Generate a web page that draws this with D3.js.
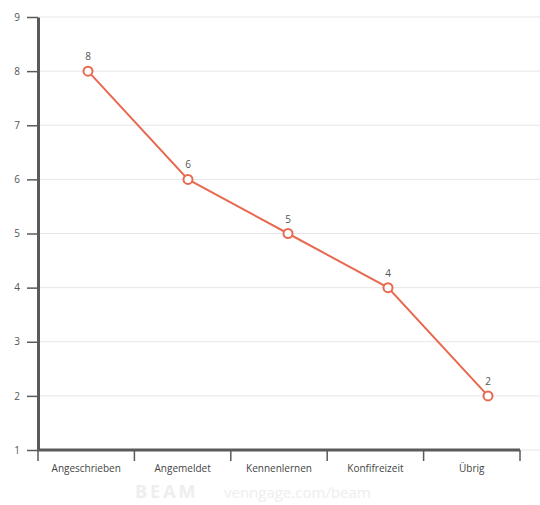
<!DOCTYPE html>
<html><head><meta charset="utf-8">
<script src="https://cdn.jsdelivr.net/npm/d3@7"></script>
<style>body{margin:0;background:#fff;} text{font-family:"Open Sans",sans-serif;}</style>
</head><body><svg id="c" width="540" height="505"></svg>
<script>
const categories = ["Angeschrieben","Angemeldet","Kennenlernen","Konfifreizeit","Übrig"];
const values = [8,6,5,4,2];
const yTicks = [1,2,3,4,5,6,7,8,9];

const svg = d3.select("#c");
const y = d3.scaleLinear().domain([1,9]).range([450,17]);
const xBand = d3.scaleBand().domain(categories).range([38,520]);
const xPt = d3.scalePoint().domain(categories).range([38,538]).padding(0.5);

// grid
svg.append("g").selectAll("line").data(yTicks).join("line")
  .attr("x1",38).attr("x2",540).attr("y1",d=>y(d)).attr("y2",d=>y(d))
  .attr("stroke","#e6e6e6").attr("stroke-width",1);

// y axis
const ya = svg.append("g").attr("transform","translate(38,0)")
  .call(d3.axisLeft(y).tickValues(yTicks).tickSize(11).tickPadding(7).tickSizeOuter(0));
ya.select(".domain").attr("stroke","#5a5a5a").attr("stroke-width",3);
ya.selectAll(".tick line").attr("stroke","#5a5a5a").attr("stroke-width",1.5);
ya.selectAll("text").attr("fill","#555").style("font-size","10px");

// x axis
const xa = svg.append("g").attr("transform","translate(0,450)")
  .call(d3.axisBottom(xBand).tickSize(0).tickPadding(15));
xa.select(".domain").attr("stroke","#5a5a5a").attr("stroke-width",3).attr("d","M37,0H520");
xa.selectAll(".tick line").remove();
xa.selectAll("text").attr("fill","#444").style("font-size","10px");
svg.append("g").selectAll("line").data(categories.map(c=>xBand(c)).concat([xBand.range()[1]]))
  .join("line").attr("x1",d=>d).attr("x2",d=>d).attr("y1",450).attr("y2",461)
  .attr("stroke","#5a5a5a").attr("stroke-width",1.5);

// line
const col = "#e8694f";
svg.append("path").datum(values.map((v,i)=>[xPt(categories[i]),y(v)]))
  .attr("d",d3.line()).attr("fill","none").attr("stroke",col).attr("stroke-width",2);
svg.append("g").selectAll("circle").data(values).join("circle")
  .attr("cx",(d,i)=>xPt(categories[i])).attr("cy",d=>y(d)).attr("r",4.5)
  .attr("fill","#fff").attr("stroke",col).attr("stroke-width",2);
svg.append("g").selectAll("text").data(values).join("text")
  .attr("x",(d,i)=>xPt(categories[i])).attr("y",d=>y(d)-11)
  .attr("text-anchor","middle").attr("fill","#555").style("font-size","10px").text(d=>d);

// watermark
svg.append("text").attr("x",135).attr("y",498).attr("fill","#eee")
  .style("font-size","18px").style("font-weight","bold").style("letter-spacing","3px").text("BEAM");
svg.append("text").attr("x",224).attr("y",498).attr("fill","#eee")
  .style("font-size","15px").text("venngage.com/beam");
</script></body></html>
